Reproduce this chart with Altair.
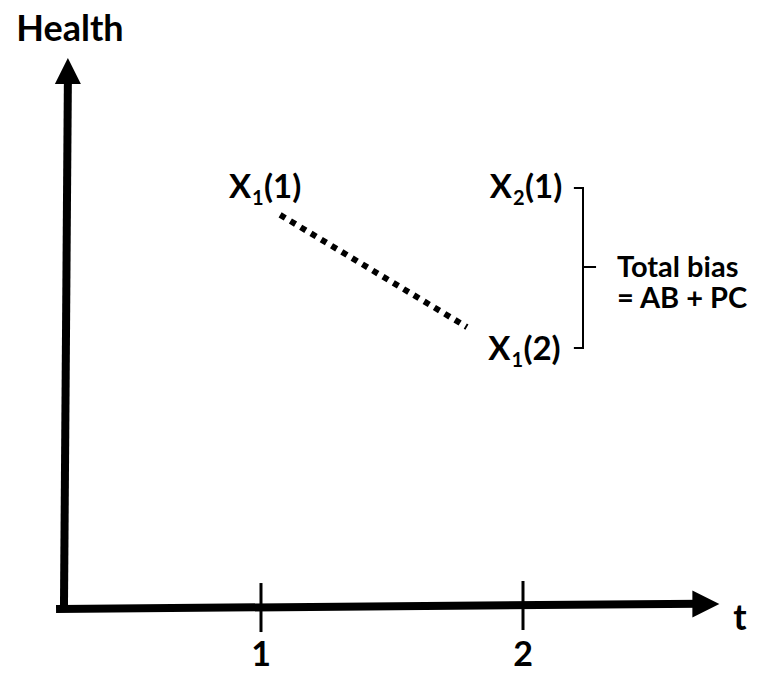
import altair as alt
import pandas as pd

# ---- diagram data (time t on x, health level on y) ----
X_DOMAIN = [0.0344, 2.8893]
Y_DOMAIN = [-1.127, 10.891]

# axes (start/end points), arrow heads
axis_t1 = [0.248, 0.233]
axis_h1 = [0.0, -0.036]
axis_t2 = [0.263, 2.66]
axis_h2 = [9.6, 0.06]
arrow_t = [0.263, 2.698]
arrow_h = [9.745, 0.055]
arrow_dir = ["up", "right"]

# time ticks
tick_t = [1, 2]
tick_lo = [-0.455, -0.418]
tick_hi = [0.436, 0.473]
tick_labels = ["1", "2"]
tick_label_h = [-0.89, -0.89]

# axis titles
title_text = ["Health", "t"]
title_t = [0.271, 2.828]
title_h = [10.50, -0.209]

# potential-outcome labels X_sub(arg)
lab_t = [0.962, 1.958, 1.952]
lab_h = [7.44, 7.44, 4.49]
lab_sub = ["1", "2", "1"]
lab_arg = ["(1)", "(1)", "(2)"]

# dotted trajectory of X1
dot_t = [1.073, 1.786]
dot_h = [7.13, 5.09]

# bracket
br_t = [2.229, 2.198, 2.198, 2.229]
br_t2 = [2.229, 2.229, 2.229, 2.275]
br_h = [7.618, 7.618, 4.709, 6.182]
br_h2 = [4.709, 7.618, 4.709, 6.182]

# bias annotation
bias_lines = ["Total bias", "= AB + PC"]
bias_t = [2.359, 2.359]
bias_h = [6.0, 5.436]

FONT = "Lato"

xs = alt.Scale(domain=X_DOMAIN, nice=False, zero=False)
ys = alt.Scale(domain=Y_DOMAIN, nice=False, zero=False)

def X(f):
    return alt.X(f, type="quantitative", scale=xs, axis=None)

def Y(f):
    return alt.Y(f, type="quantitative", scale=ys, axis=None)

axes_df = pd.DataFrame({"t": axis_t1, "h": axis_h1, "t2": axis_t2, "h2": axis_h2})
axes = alt.Chart(axes_df).mark_rule(color="black", strokeWidth=8, strokeCap="square").encode(
    x=X("t"), y=Y("h"), x2="t2", y2="h2")

arr_df = pd.DataFrame({"t": arrow_t, "h": arrow_h, "d": arrow_dir})
up = alt.Chart(arr_df[arr_df.d == "up"]).mark_point(
    shape="M-1,1L1,1L0,-1Z", filled=True, color="black", opacity=1, size=676, strokeWidth=0
).encode(x=X("t"), y=Y("h"))
right = alt.Chart(arr_df[arr_df.d == "right"]).mark_point(
    shape="M-1,-1L1,0L-1,1Z", filled=True, color="black", opacity=1, size=729, strokeWidth=0
).encode(x=X("t"), y=Y("h"))

tick_df = pd.DataFrame({"t": tick_t, "lo": tick_lo, "hi": tick_hi, "lab": tick_labels, "lh": tick_label_h})
ticks = alt.Chart(tick_df).mark_rule(color="black", strokeWidth=3).encode(
    x=X("t"), y=Y("lo"), y2="hi")
tick_text = alt.Chart(tick_df).mark_text(
    font=FONT, fontSize=34, fontWeight="bold", baseline="middle", align="center", color="black"
).encode(x=X("t"), y=Y("lh"), text="lab:N")

title_df = pd.DataFrame({"txt": title_text, "t": title_t, "h": title_h})
titles = alt.Chart(title_df).mark_text(
    font=FONT, fontSize=36, fontWeight="bold", baseline="middle", align="center", color="black"
).encode(x=X("t"), y=Y("h"), text="txt:N")

lab_df = pd.DataFrame({"t": lab_t, "h": lab_h, "sub": lab_sub, "arg": lab_arg})
lab_x = alt.Chart(lab_df).mark_text(
    text="X", font=FONT, fontSize=33, fontWeight="bold", align="right", baseline="alphabetic", color="black"
).encode(x=X("t"), y=Y("h"))
lab_s = alt.Chart(lab_df).mark_text(
    font=FONT, fontSize=20, fontWeight="bold", align="left", baseline="alphabetic", dx=1, dy=7, color="black"
).encode(x=X("t"), y=Y("h"), text="sub:N")
lab_a = alt.Chart(lab_df).mark_text(
    font=FONT, fontSize=33, fontWeight="bold", align="left", baseline="alphabetic", dx=13, color="black"
).encode(x=X("t"), y=Y("h"), text="arg:N")

dot_df = pd.DataFrame({"t": [dot_t[0]], "h": [dot_h[0]], "t2": [dot_t[1]], "h2": [dot_h[1]]})
dotted = alt.Chart(dot_df).mark_rule(color="black", strokeWidth=6, strokeDash=[6, 6], strokeCap="butt").encode(
    x=X("t"), y=Y("h"), x2="t2", y2="h2")

br_df = pd.DataFrame({"t": br_t, "t2": br_t2, "h": br_h, "h2": br_h2})
bracket = alt.Chart(br_df).mark_rule(color="black", strokeWidth=2, strokeCap="square").encode(
    x=X("t"), y=Y("h"), x2="t2", y2="h2")

bias_df = pd.DataFrame({"txt": bias_lines, "t": bias_t, "h": bias_h})
bias = alt.Chart(bias_df).mark_text(
    font=FONT, fontSize=29, fontWeight="bold", align="left", baseline="alphabetic", color="black"
).encode(x=X("t"), y=Y("h"), text="txt:N")

chart = alt.layer(
    axes, up, right, ticks, tick_text, titles, dotted, bracket, lab_x, lab_s, lab_a, bias
).properties(
    width=748, height=661, autosize=alt.AutoSizeParams(type="none"), padding=0
).configure_view(stroke=None)

chart.save("out.html", embed_options={"renderer": "svg", "actions": False})
